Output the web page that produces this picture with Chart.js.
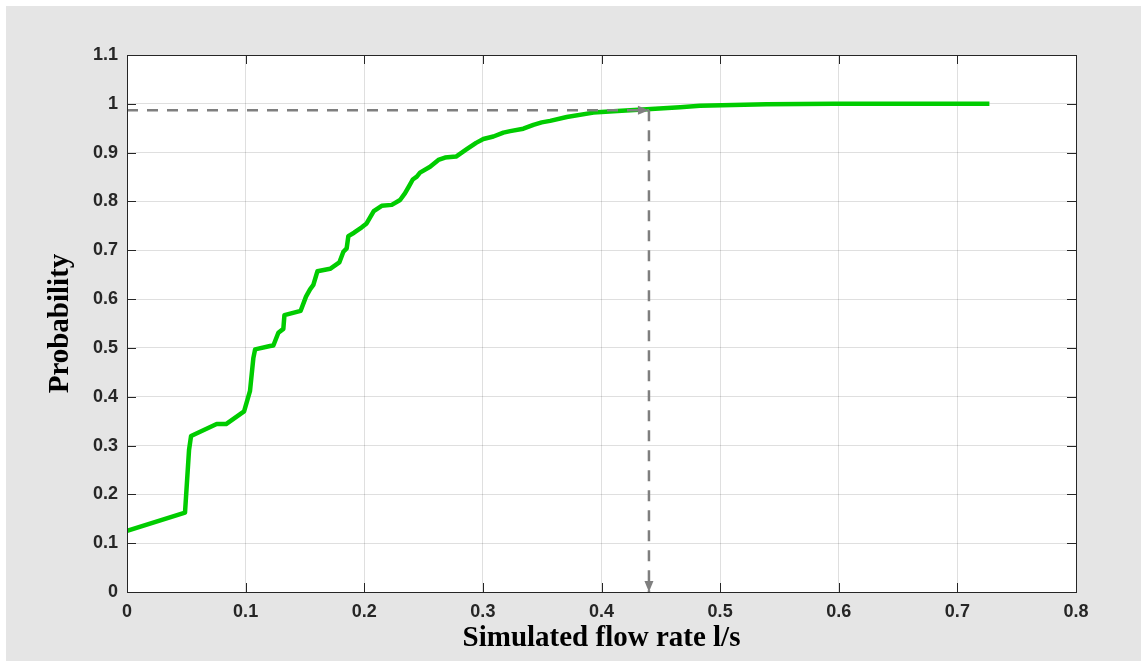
<!DOCTYPE html>
<html>
<head>
<meta charset="utf-8">
<title>Simulated flow rate – cumulative probability</title>
<script src="https://cdn.jsdelivr.net/npm/chart.js@4.4.1/dist/chart.umd.min.js"></script>
<style>
  html, body { margin: 0; padding: 0; background: #ffffff; }
  #frame {
    position: absolute; left: 6px; top: 6px;
    width: 1135px; height: 655px;
    background: #e5e5e5;
  }
  #chart { display: block; }
</style>
</head>
<body>
<div id="frame"><canvas id="chart" width="1135" height="655"></canvas></div>
<script>
// Cumulative distribution of the simulated flow rate (l/s)
const flowRate = [
  0, 0.0489, 0.0523, 0.054, 0.0756, 0.0835, 0.0987, 0.1037, 0.1065, 0.108,
  0.1206, 0.1234, 0.1276, 0.1318, 0.1327, 0.1464, 0.1509, 0.1543, 0.1571, 0.1605,
  0.1712, 0.179, 0.1824, 0.1852, 0.1866, 0.1914, 0.1979, 0.202, 0.208, 0.2147,
  0.2232, 0.2302, 0.2344, 0.2372, 0.2409, 0.2443, 0.247, 0.2555, 0.2625, 0.2681,
  0.2774, 0.2864, 0.2943, 0.3004, 0.3089, 0.3173, 0.323, 0.3341, 0.3426, 0.3496,
  0.3567, 0.3707, 0.3932, 0.41, 0.4382, 0.4663, 0.483, 0.539, 0.596, 0.727
];
const probability = [
  0.125, 0.1625, 0.291, 0.3195, 0.344, 0.344, 0.370, 0.412, 0.479, 0.497,
  0.504, 0.505, 0.531, 0.539, 0.567, 0.576, 0.605, 0.620, 0.629, 0.657,
  0.662, 0.675, 0.697, 0.704, 0.729, 0.736, 0.747, 0.755, 0.780, 0.791,
  0.793, 0.803, 0.817, 0.829, 0.845, 0.851, 0.859, 0.871, 0.885, 0.890,
  0.892, 0.907, 0.920, 0.928, 0.933, 0.941, 0.944, 0.949, 0.957, 0.962,
  0.965, 0.973, 0.982, 0.985, 0.989, 0.993, 0.996, 0.999, 1.0, 1.0
];

// Reading marked on the curve: flow rate and its cumulative probability
const markerFlow = 0.44;
const markerProb = 0.987;

// Axis ticks
const xTicks = [0, 0.1, 0.2, 0.3, 0.4, 0.5, 0.6, 0.7, 0.8];
const yTicks = [0, 0.1, 0.2, 0.3, 0.4, 0.5, 0.6, 0.7, 0.8, 0.9, 1, 1.1];

const axisColor = '#262626';
const dashColor = '#7f7f7f';

const cdfPoints = flowRate.map((x, i) => ({ x: x, y: probability[i] }));
const hGuide = [{ x: 0, y: markerProb }, { x: markerFlow, y: markerProb }];
const vGuide = [{ x: markerFlow, y: markerProb }, { x: markerFlow, y: 0 }];

// White plot area, box frame and inward tick marks on all four sides
const boxPlugin = {
  id: 'boxAxes',
  beforeDraw(chart) {
    const { ctx, chartArea: a } = chart;
    ctx.save();
    ctx.fillStyle = '#ffffff';
    ctx.fillRect(a.left, a.top, a.right - a.left, a.bottom - a.top);
    ctx.restore();
  },
  afterDraw(chart) {
    const { ctx, chartArea: a, scales } = chart;
    const len = 9;
    ctx.save();
    ctx.strokeStyle = axisColor;
    ctx.lineWidth = 1;
    ctx.beginPath();
    xTicks.forEach(v => {
      const px = Math.round(scales.x.getPixelForValue(v)) + 0.5;
      ctx.moveTo(px, a.bottom); ctx.lineTo(px, a.bottom - len);
      ctx.moveTo(px, a.top); ctx.lineTo(px, a.top + len);
    });
    yTicks.forEach(v => {
      const py = Math.round(scales.y.getPixelForValue(v)) + 0.5;
      ctx.moveTo(a.left, py); ctx.lineTo(a.left + len, py);
      ctx.moveTo(a.right, py); ctx.lineTo(a.right - len, py);
    });
    ctx.stroke();
    ctx.strokeRect(Math.round(a.left) + 0.5, Math.round(a.top) + 0.5,
                   Math.round(a.right - a.left), Math.round(a.bottom - a.top));
    ctx.restore();
  }
};

// Arrow heads at the ends of the dashed guide lines
const arrowPlugin = {
  id: 'guideArrows',
  afterDatasetsDraw(chart) {
    const { ctx, scales } = chart;
    const tx = scales.x.getPixelForValue(markerFlow);
    const ty = scales.y.getPixelForValue(markerProb);
    const by = scales.y.getPixelForValue(0);
    const L = 11, W = 4.5;
    ctx.save();
    ctx.fillStyle = dashColor;
    ctx.beginPath();
    ctx.moveTo(tx, ty); ctx.lineTo(tx - L, ty - W); ctx.lineTo(tx - L, ty + W); ctx.closePath();
    ctx.fill();
    ctx.beginPath();
    ctx.moveTo(tx, by); ctx.lineTo(tx - W, by - L); ctx.lineTo(tx + W, by - L); ctx.closePath();
    ctx.fill();
    ctx.restore();
  }
};

const tickFont = { family: "'Liberation Sans', Arial, sans-serif", size: 18, weight: 'bold' };
const titleFont = { family: "'Liberation Serif', 'Times New Roman', serif", size: 29, weight: 'bold' };
const gridColor = 'rgba(38,38,38,0.15)';

new Chart(document.getElementById('chart'), {
  type: 'scatter',
  data: {
    datasets: [
      {
        data: hGuide, showLine: true, borderColor: dashColor, borderWidth: 2.5,
        borderDash: [11, 9], pointRadius: 0, order: 0
      },
      {
        data: vGuide, showLine: true, borderColor: dashColor, borderWidth: 2.5,
        borderDash: [11, 9], pointRadius: 0, order: 0
      },
      {
        data: cdfPoints, showLine: true, borderColor: '#00cc00', borderWidth: 4.5,
        tension: 0, pointRadius: 0, borderJoinStyle: 'round', order: 1
      }
    ]
  },
  options: {
    responsive: false,
    animation: false,
    devicePixelRatio: 1,
    layout: { padding: { left: 0, top: 49, right: 65, bottom: 0 } },
    plugins: { legend: { display: false }, tooltip: { enabled: false } },
    scales: {
      x: {
        type: 'linear', min: 0, max: 0.8,
        afterBuildTicks: s => { s.ticks = xTicks.map(v => ({ value: v })); },
        afterFit: s => { s.height = 69; },
        ticks: { font: tickFont, color: axisColor, padding: 9, maxRotation: 0,
                 callback: v => String(v) },
        grid: { color: gridColor, lineWidth: 1, drawTicks: false },
        border: { display: false },
        title: { display: true, text: 'Simulated flow rate l/s', font: titleFont,
                 color: '#000000', padding: { top: 0, bottom: 5 } }
      },
      y: {
        type: 'linear', min: 0, max: 1.1,
        afterBuildTicks: s => { s.ticks = yTicks.map(v => ({ value: v })); },
        afterFit: s => { s.width = 121; },
        ticks: { font: tickFont, color: axisColor, padding: 9,
                 callback: v => String(v) },
        grid: { color: gridColor, lineWidth: 1, drawTicks: false },
        border: { display: false },
        title: { display: true, text: 'Probability', font: titleFont,
                 color: '#000000', padding: { top: 37, bottom: 0 } }
      }
    }
  },
  plugins: [boxPlugin, arrowPlugin]
});
</script>
</body>
</html>
